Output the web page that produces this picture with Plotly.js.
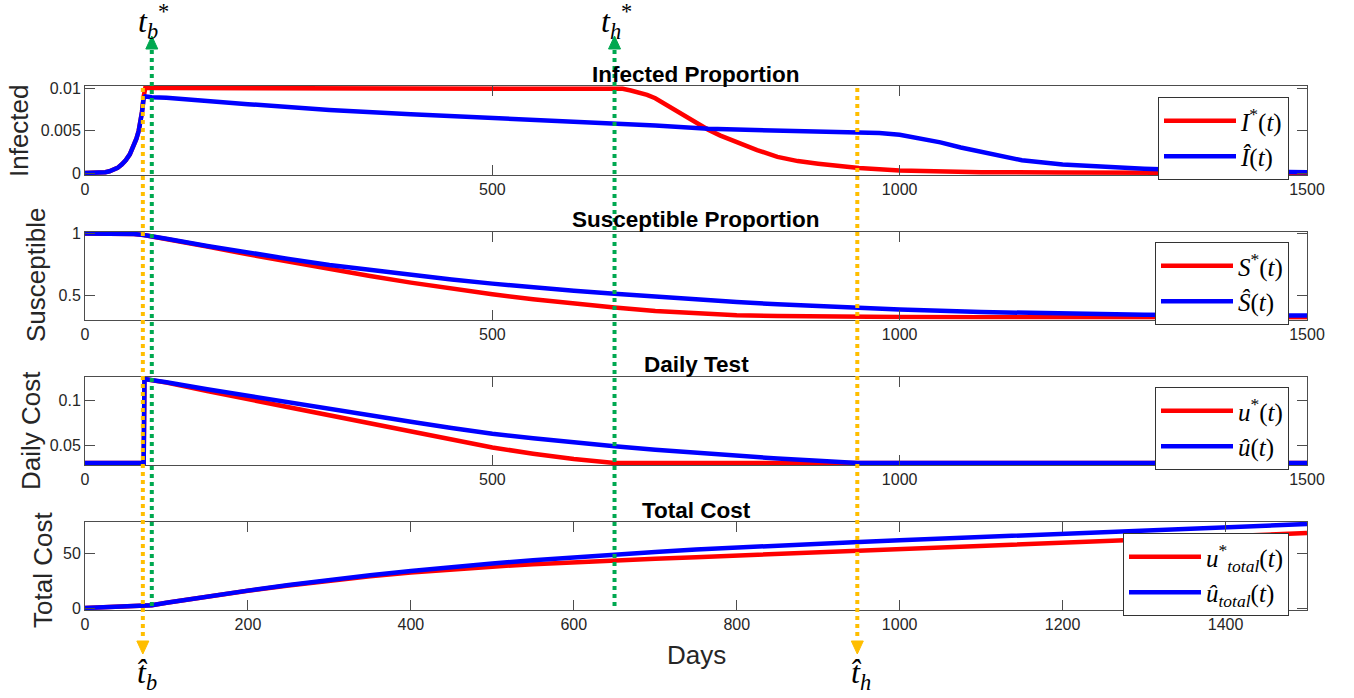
<!DOCTYPE html>
<html>
<head>
<meta charset="utf-8">
<script src="https://cdn.plot.ly/plotly-3.0.1.min.js"></script>
<style>html,body{margin:0;padding:0;background:#fff;}#chart{width:1354px;height:698px;}</style>
</head>
<body>
<div id="chart"></div>
<script>
// ---------------- DATA ----------------
const iStarDays = [0, 10, 20, 25, 30, 35, 40, 45, 50, 55, 60, 63, 66, 68, 70, 72, 74, 100, 200, 300, 400, 500, 600, 650, 660, 670, 680, 690, 700, 712, 723, 735, 750, 765, 780, 800, 825, 850, 875, 900, 925, 950, 1000, 1100, 1200, 1300, 1400, 1500];
const iStar     = [0, 0.00002, 0.00005, 0.0001, 0.0002, 0.00035, 0.0006, 0.001, 0.0015, 0.0022, 0.0032, 0.004, 0.005, 0.006, 0.0072, 0.0090, 0.0100, 0.0100, 0.0100, 0.0100, 0.0100, 0.0100, 0.0100, 0.0100, 0.0099, 0.0097, 0.0095, 0.0092, 0.0088, 0.0081, 0.0074, 0.0067, 0.0059, 0.0051, 0.0044, 0.0036, 0.0027, 0.0019, 0.0014, 0.0011, 0.0008, 0.0006, 0.0003, 0.0001, 0.00005, 0.00002, 0.00001, 0];
const iHatDays  = [0, 10, 20, 25, 30, 35, 40, 45, 50, 55, 60, 63, 66, 68, 70, 72, 74, 82, 100, 200, 300, 400, 500, 600, 650, 700, 765, 800, 850, 900, 950, 975, 1000, 1025, 1050, 1075, 1100, 1125, 1150, 1200, 1250, 1300, 1400, 1500];
const iHat      = [0, 0.00002, 0.00005, 0.0001, 0.0002, 0.00035, 0.0006, 0.001, 0.0015, 0.0022, 0.0032, 0.004, 0.005, 0.006, 0.0072, 0.0088, 0.0090, 0.0089, 0.00885, 0.0081, 0.0074, 0.0069, 0.0065, 0.0061, 0.0059, 0.0056, 0.0052, 0.0051, 0.0050, 0.0049, 0.0048, 0.0047, 0.0045, 0.0041, 0.0036, 0.0030, 0.0025, 0.0020, 0.0015, 0.0010, 0.0007, 0.0005, 0.0002, 0.0001];

const sDays = [0, 40, 60, 72, 82, 100, 150, 200, 250, 300, 350, 400, 450, 500, 550, 600, 650, 700, 750, 800, 850, 900, 950, 1000, 1100, 1200, 1300, 1400, 1500];
const sStar = [1.0, 0.999, 0.995, 0.988, 0.975, 0.955, 0.895, 0.832, 0.772, 0.713, 0.657, 0.604, 0.556, 0.510, 0.470, 0.434, 0.404, 0.376, 0.355, 0.342, 0.335, 0.331, 0.329, 0.327, 0.325, 0.324, 0.324, 0.323, 0.323];
const sHat  = [1.0, 0.999, 0.995, 0.988, 0.975, 0.958, 0.900, 0.845, 0.795, 0.746, 0.705, 0.666, 0.630, 0.596, 0.565, 0.538, 0.515, 0.490, 0.467, 0.447, 0.429, 0.414, 0.401, 0.387, 0.367, 0.354, 0.346, 0.341, 0.339];

const uDays = [0, 72, 73, 100, 150, 200, 250, 300, 350, 400, 450, 500, 550, 600, 650, 700, 750, 800, 850, 900, 948, 1000, 1100, 1200, 1300, 1400, 1500];
const uStar = [0.03, 0.03, 0.1246, 0.1205, 0.111, 0.102, 0.093, 0.084, 0.075, 0.065, 0.056, 0.0475, 0.0405, 0.0345, 0.030, 0.030, 0.030, 0.030, 0.030, 0.030, 0.030, 0.030, 0.030, 0.030, 0.030, 0.030, 0.030];
const uHat  = [0.03, 0.03, 0.1246, 0.121, 0.113, 0.1055, 0.0985, 0.0915, 0.0840, 0.0765, 0.0695, 0.0630, 0.0578, 0.0530, 0.0488, 0.0450, 0.0415, 0.0380, 0.0350, 0.0325, 0.030, 0.030, 0.030, 0.030, 0.030, 0.030, 0.030];

const cDays = [0, 72, 82, 100, 150, 200, 250, 300, 350, 400, 450, 500, 550, 600, 650, 700, 750, 800, 850, 900, 950, 1000, 1100, 1200, 1300, 1400, 1500];
const cStar = [0, 1.8, 2.6, 4.8, 10.6, 15.9, 20.8, 25.2, 29.2, 32.7, 35.6, 38.1, 40.3, 42.2, 43.8, 45.3, 46.8, 48.3, 49.8, 51.2, 52.6, 54.1, 57.1, 60.1, 63.0, 66.0, 69.0];
const cHat  = [0, 1.8, 2.6, 4.8, 10.7, 16.0, 21.1, 25.8, 30.1, 34.1, 37.8, 41.1, 44.1, 46.9, 49.4, 51.7, 53.9, 55.9, 57.7, 59.4, 60.9, 62.4, 65.4, 68.4, 71.4, 74.4, 77.4];

// switching times (days)
const tbStar = 82, thStar = 650, tbHat = 71, thHat = 948;

// axis ticks and labels
const xTicksTop = [0, 500, 1000, 1500];
const xTicksBottom = [0, 200, 400, 600, 800, 1000, 1200, 1400];
const y1Ticks = [0, 0.005, 0.01], y1Text = ['0', '0.005', '0.01'];
const y2Ticks = [0.5, 1], y2Text = ['0.5', '1'];
const y3Ticks = [0.05, 0.1], y3Text = ['0.05', '0.1'];
const y4Ticks = [0, 50], y4Text = ['0', '50'];
const yRanges = [[0, 0.01], [0.323, 1], [0.03, 0.1246], [0, 77.4]];

const panelTitles = ['Infected Proportion', 'Susceptible Proportion', 'Daily Test', 'Total Cost'];
const yTitles = ['Infected', 'Susceptible', 'Daily Cost', 'Total Cost'];
const xTitle = 'Days';
const legendNames = [
  ['<i>I</i><sup>*</sup>(<i>t</i>)', '<i>Î</i>(<i>t</i>)'],
  ['<i>S</i><sup>*</sup>(<i>t</i>)', '<i>Ŝ</i>(<i>t</i>)'],
  ['<i>u</i><sup>*</sup>(<i>t</i>)', '<i>û</i>(<i>t</i>)'],
  ['<i>u</i><sup>*</sup><sub><i>total</i></sub>(<i>t</i>)', '<i>û</i><sub><i>total</i></sub>(<i>t</i>)']
];
const markerLabels = ['<i>t</i><sub><i>b</i></sub><sup>*</sup>', '<i>t</i><sub><i>h</i></sub><sup>*</sup>',
                      '<i>t̂</i><sub><i>b</i></sub>', '<i>t̂</i><sub><i>h</i></sub>'];

// ---------------- LAYOUT ----------------
const W = 1354, H = 698;
const SANS = 'Liberation Sans, Arial, Helvetica, sans-serif';
const SERIF = 'Liberation Serif, Times New Roman, DejaVu Serif, serif';
const RED = 'rgb(255,0,0)', BLUE = 'rgb(0,0,255)';
const GREEN = 'rgb(0,168,80)', ORANGE = 'rgb(255,190,0)';
const AX = '#4d4d4d', TXT = '#262626';
const PAD = 2;
const boxPx = [[88, 173], [233.5, 317.5], [379, 463], [524, 608]];
const xDom = [85 / W, 1307 / W];
const py = p => 1 - p / H;

const seriesStarX = [iStarDays, sDays, uDays, cDays];
const seriesHatX = [iHatDays, sDays, uDays, cDays];
const seriesStar = [iStar, sStar, uStar, cStar];
const seriesHat = [iHat, sHat, uHat, cHat];

const traces = [];
for (let k = 0; k < 4; k++) {
  const sfx = k === 0 ? '' : String(k + 1);
  const lg = k === 0 ? 'legend' : 'legend' + (k + 1);
  traces.push({x: seriesStarX[k], y: seriesStar[k], xaxis: 'x' + sfx, yaxis: 'y' + sfx, type: 'scatter', mode: 'lines',
    name: legendNames[k][0], legend: lg, line: {color: RED, width: 4.5}, hoverinfo: 'skip'});
  traces.push({x: seriesHatX[k], y: seriesHat[k], xaxis: 'x' + sfx, yaxis: 'y' + sfx, type: 'scatter', mode: 'lines',
    name: legendNames[k][1], legend: lg, line: {color: BLUE, width: 4.5}, hoverinfo: 'skip'});
}

const layout = {
  width: W, height: H, margin: {l: 0, r: 0, t: 0, b: 0},
  paper_bgcolor: '#fff', plot_bgcolor: '#fff', showlegend: true,
  font: {family: SANS, color: TXT, size: 16},
  annotations: [], shapes: []
};
const yTickSets = [[y1Ticks, y1Text], [y2Ticks, y2Text], [y3Ticks, y3Text], [y4Ticks, y4Text]];
const legendTops = [97, 242, 387, 533];
for (let k = 0; k < 4; k++) {
  const sfx = k === 0 ? '' : String(k + 1);
  const [top, bot] = boxPx[k];
  const [lo, hi] = yRanges[k];
  const perPx = (hi - lo) / (bot - top);
  const xt = k === 3 ? xTicksBottom : xTicksTop;
  layout['xaxis' + sfx] = {
    domain: xDom, range: [0, 1500], anchor: 'y' + sfx, showgrid: false, zeroline: false,
    showline: true, linecolor: AX, linewidth: 1, mirror: 'ticks', ticks: 'inside', ticklen: 10, tickcolor: AX,
    tickvals: xt, ticktext: xt.map(String), tickfont: {family: SANS, size: 16, color: TXT}, fixedrange: true
  };
  layout['yaxis' + sfx] = {
    domain: [py(bot + PAD), py(top - PAD)], range: [lo - PAD * perPx, hi + PAD * perPx], anchor: 'x' + sfx,
    showgrid: false, zeroline: false, showline: true, linecolor: AX, linewidth: 1, mirror: 'ticks',
    ticks: 'inside', ticklen: 10, tickcolor: AX,
    tickvals: yTickSets[k][0], ticktext: yTickSets[k][1], tickfont: {family: SANS, size: 16, color: TXT}, fixedrange: true
  };
  const lgKey = k === 0 ? 'legend' : 'legend' + (k + 1);
  layout[lgKey] = {
    x: 1289 / W, y: py(legendTops[k]), xanchor: 'right', yanchor: 'top', xref: 'paper', yref: 'paper',
    bgcolor: '#fff', bordercolor: '#333', borderwidth: 1, itemwidth: 72, tracegroupgap: 0,
    font: {family: SERIF, size: 25, color: '#000'}
  };
  layout.annotations.push({text: '<b>' + panelTitles[k] + '</b>', xref: 'paper', yref: 'paper',
    x: 696 / W, y: py(top - 14), xanchor: 'center', yanchor: 'middle', showarrow: false,
    font: {family: SANS, size: 22.5, color: '#000'}});
}
const yTitlePos = [[19, 131], [36, 275], [31, 430], [43, 570]];
yTitles.forEach((t, k) => layout.annotations.push({text: t, xref: 'paper', yref: 'paper',
  x: yTitlePos[k][0] / W, y: py(yTitlePos[k][1]), xanchor: 'center', yanchor: 'middle', textangle: -90,
  showarrow: false, font: {family: SANS, size: 26, color: TXT}}));
layout.annotations.push({text: xTitle, xref: 'paper', yref: 'paper', x: 696 / W, y: py(655),
  xanchor: 'center', yanchor: 'middle', showarrow: false, font: {family: SANS, size: 26, color: TXT}});

// switching time markers
function vline(day, y0px, y1px, color) {
  layout.shapes.push({type: 'line', xref: 'x', yref: 'paper', x0: day, x1: day, y0: py(y0px), y1: py(y1px),
    line: {color: color, width: 4, dash: '4px,4px'}, layer: 'above'});
}
function head(day, tipPx, up, color) {
  const s = up ? -1 : 1;
  layout.shapes.push({type: 'path', xref: 'x', yref: 'paper', xsizemode: 'pixel', ysizemode: 'pixel',
    xanchor: day, yanchor: py(tipPx), path: `M -6 ${s * 13} L 6 ${s * 13} L 0 0 Z`,
    fillcolor: color, line: {color: color, width: 1}, layer: 'above'});
}
vline(tbStar, 50, 608, GREEN); head(tbStar, 36, true, GREEN);
vline(thStar, 50, 608, GREEN); head(thStar, 36, true, GREEN);
vline(tbHat, 88, 640, ORANGE); head(tbHat, 654, false, ORANGE);
vline(thHat, 88, 640, ORANGE); head(thHat, 654, false, ORANGE);

function mlabel(day, cy, text, dx) {
  layout.annotations.push({text: text, xref: 'x', yref: 'paper', x: day, xshift: dx, y: py(cy),
    xanchor: 'center', yanchor: 'middle', showarrow: false, font: {family: SERIF, size: 32, color: '#000'}});
}
mlabel(tbStar, 21, markerLabels[0], 2);
mlabel(thStar, 21, markerLabels[1], 2);
mlabel(tbHat, 674, markerLabels[2], 4);
mlabel(thHat, 674, markerLabels[3], 4);

Plotly.newPlot('chart', traces, layout, {staticPlot: true, displayModeBar: false});
</script>
</body>
</html>
